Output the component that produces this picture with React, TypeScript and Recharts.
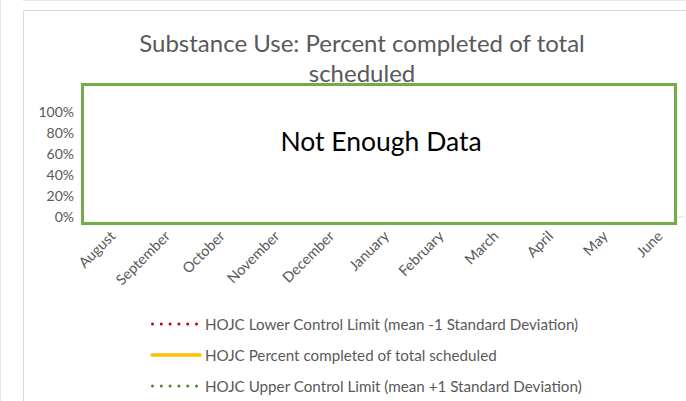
import React from 'react';
import { LineChart, Line, XAxis, YAxis } from 'recharts';

const months = ['August', 'September', 'October', 'November', 'December', 'January', 'February', 'March', 'April', 'May', 'June'];
const lowerControlLimit: (number | null)[] = [null, null, null, null, null, null, null, null, null, null, null];
const percentCompleted: (number | null)[] = [null, null, null, null, null, null, null, null, null, null, null];
const upperControlLimit: (number | null)[] = [null, null, null, null, null, null, null, null, null, null, null];
const yTicks = [0, 0.2, 0.4, 0.6, 0.8, 1];
const titleLines = ['Substance Use: Percent completed of total', 'scheduled'];
const overlayText = 'Not Enough Data';
const seriesNames = [
  'HOJC Lower Control Limit (mean -1 Standard Deviation)',
  'HOJC Percent completed of total scheduled',
  'HOJC Upper Control Limit (mean +1 Standard Deviation)',
];
const seriesColors = ['#C00000', '#FFC000', '#548235'];

const data = months.map((m, i) => ({
  month: m,
  lower: lowerControlLimit[i],
  pct: percentCompleted[i],
  upper: upperControlLimit[i],
}));

const FONT = 'Lato, "Open Sans", sans-serif';

const MonthTick = (props: any) => {
  const { x, y, payload } = props;
  const tx = x + 7;
  const ty = y + 12;
  return (
    <text
      x={tx}
      y={ty}
      textAnchor="end"
      fontSize={14.5}
      fontFamily={FONT}
      fill="#595959"
      transform={`rotate(-45, ${tx}, ${ty})`}
    >
      {payload.value}
    </text>
  );
};

const LegendIcon = ({ idx }: { idx: number }) => {
  const color = seriesColors[idx];
  if (idx === 1) {
    return (
      <svg width={52} height={8} style={{ display: 'block' }}>
        <line x1={2} y1={4} x2={50} y2={4} stroke={color} strokeWidth={3.5} strokeLinecap="round" />
      </svg>
    );
  }
  return (
    <svg width={52} height={8} style={{ display: 'block' }}>
      <line x1={2.5} y1={4} x2={48} y2={4} stroke={color} strokeWidth={3} strokeDasharray="0 8.8" strokeLinecap="round" />
    </svg>
  );
};

export default function App() {
  return (
    <div style={{ position: 'absolute', left: 0, top: 0, width: 686, height: 401, overflow: 'hidden', background: '#fff' }}>
      {/* outer frame lines */}
      <div style={{ position: 'absolute', left: 0, top: 0, width: 1, height: 401, background: '#e6e6e6' }} />
      <div style={{ position: 'absolute', left: 23, top: 0, width: 663, height: 1, background: '#e6e6e6' }} />
      <div style={{ position: 'absolute', left: 23, top: 10, width: 700, height: 500, border: '1px solid #d9d9d9', boxSizing: 'border-box' }} />

      <div style={{ position: 'absolute', left: 0, top: 0 }}>
        <LineChart width={686} height={401} data={data} margin={{ top: 112, right: 2, bottom: 134, left: 0 }}>
          <XAxis
            dataKey="month"
            scale="band"
            height={50}
            interval={0}
            tick={<MonthTick />}
            tickLine={false}
            axisLine={{ stroke: '#d9d9d9' }}
          />
          <YAxis
            type="number"
            width={82}
            domain={[0, 1]}
            allowDataOverflow
            ticks={yTicks}
            interval={0}
            tickFormatter={(v: number) => `${Math.round(v * 100)}%`}
            axisLine={false}
            tickLine={false}
            tick={{ fill: '#595959', fontSize: 14, fontFamily: FONT }}
          />
          <Line dataKey="lower" name={seriesNames[0]} stroke={seriesColors[0]} strokeDasharray="1 3" dot={false} isAnimationActive={false} />
          <Line dataKey="pct" name={seriesNames[1]} stroke={seriesColors[1]} strokeWidth={3} dot={false} isAnimationActive={false} />
          <Line dataKey="upper" name={seriesNames[2]} stroke={seriesColors[2]} strokeDasharray="1 3" dot={false} isAnimationActive={false} />
        </LineChart>
      </div>

      {/* title */}
      <div style={{ position: 'absolute', left: 62, width: 600, top: 28, textAlign: 'center', fontFamily: FONT, fontSize: 24, lineHeight: '30px', color: '#595959' }}>
        <div>{titleLines[0]}</div>
        <div>{titleLines[1]}</div>
      </div>

      {/* not enough data box */}
      <div style={{ position: 'absolute', left: 81, top: 83, width: 596, height: 142, border: '3px solid #70AD47', boxSizing: 'border-box', background: '#fff' }}>
        <div style={{ position: 'absolute', left: 0, right: 0, top: 39, textAlign: 'center', fontFamily: FONT, fontSize: 26.5, color: '#000', paddingLeft: 4 }}>
          {overlayText}
        </div>
      </div>

      {/* legend */}
      <div style={{ position: 'absolute', left: 150, top: 308, fontFamily: FONT, fontSize: 15.2, color: '#595959' }}>
        {seriesNames.map((n, i) => (
          <div key={n} style={{ display: 'flex', alignItems: 'center', height: 31, whiteSpace: 'nowrap' }}>
            <LegendIcon idx={i} />
            <span style={{ marginLeft: 3 }}>{n}</span>
          </div>
        ))}
      </div>
    </div>
  );
}
